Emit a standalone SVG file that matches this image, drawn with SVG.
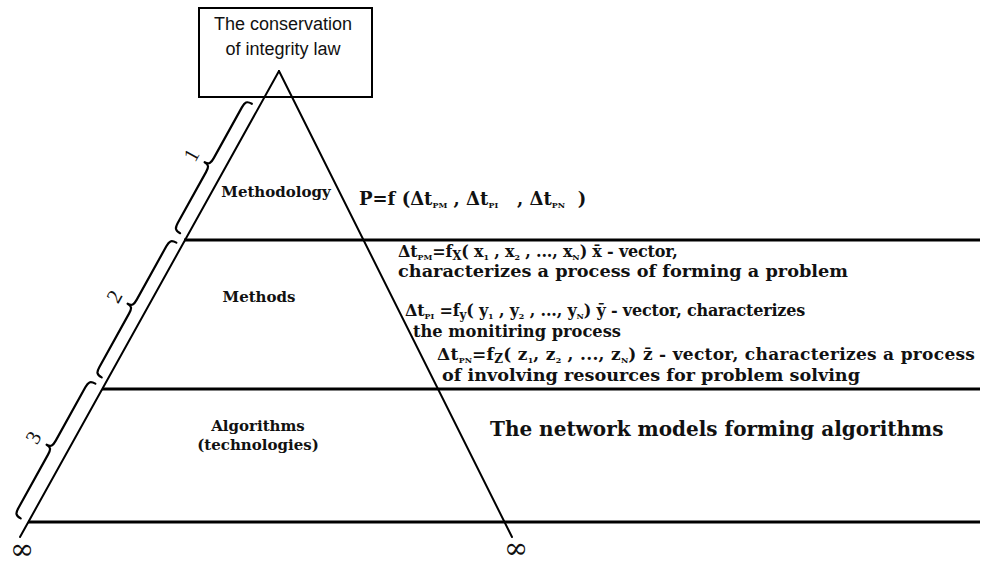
<svg xmlns="http://www.w3.org/2000/svg" width="982" height="561" viewBox="0 0 982 561">
<style>
  .ln { stroke: #000; stroke-width: 2; fill: none; stroke-linecap: round; }
  .hl { stroke: #000; stroke-width: 3; fill: none; }
  .br { stroke: #000; stroke-width: 2.2; fill: none; stroke-linecap: round; stroke-linejoin: round; }
  .box { fill: none; stroke: #000; stroke-width: 2; }
  .sans { font-family: "Liberation Sans", Arial, sans-serif; font-size: 18px; fill: #111; }
  .lay { font-family: "DejaVu Serif", "Liberation Serif", serif; font-weight: bold; font-size: 15px; fill: #111; text-anchor: middle; }
  .f { font-family: "DejaVu Serif", "Liberation Serif", serif; font-weight: bold; font-size: 17px; fill: #111; }
  .fn { font-size: 16px; letter-spacing: -0.2px; }
  .fw { letter-spacing: 0.3px; }
  .big { font-family: "DejaVu Serif", "Liberation Serif", serif; font-weight: bold; font-size: 20px; fill: #111; }
  .s { font-size: 8px; letter-spacing: 0; }
  .s2 { font-size: 12px; }
  .num { font-family: "Liberation Serif", "DejaVu Serif", serif; font-size: 21px; fill: #111; text-anchor: middle; }
  .inf { font-family: "DejaVu Serif", "Liberation Serif", serif; font-size: 29px; fill: #111; text-anchor: middle; }
</style>

<g id="connectors">
  <line class="ln" x1="279" y1="71" x2="20" y2="537"/>
  <line class="ln" x1="279" y1="71" x2="512" y2="537"/>
  <line class="hl" x1="184" y1="240" x2="980" y2="240"/>
  <line class="hl" x1="102" y1="389" x2="980" y2="389"/>
  <line class="hl" x1="28" y1="522" x2="980" y2="522"/>
</g>

<g id="law-box">
  <rect class="box" x="199" y="8" width="173" height="89"/>
  <text class="sans" x="283" y="30" text-anchor="middle">The conservation</text>
  <text class="sans" x="283" y="55" text-anchor="middle">of integrity law</text>
</g>

<g id="braces">
  <g transform="translate(216,168.5) rotate(-61)">
    <path class="br" d="M-74,0 C-74,-6 -72,-7 -66,-7 L-8,-7 C-2,-7 0,-8 0,-13 C0,-8 2,-7 8,-7 L66,-7 C72,-7 74,-6 74,0"/>
    <text class="num" x="0" y="-21">1</text>
  </g>
  <g transform="translate(139,310) rotate(-61)">
    <path class="br" d="M-77,0 C-77,-6 -75,-7 -69,-7 L-8,-7 C-2,-7 0,-8 0,-13 C0,-8 2,-7 8,-7 L69,-7 C75,-7 77,-6 77,0"/>
    <text class="num" x="0" y="-21">2</text>
  </g>
  <g transform="translate(58,451) rotate(-61)">
    <path class="br" d="M-77,0 C-77,-6 -75,-7 -69,-7 L-8,-7 C-2,-7 0,-8 0,-13 C0,-8 2,-7 8,-7 L69,-7 C75,-7 77,-6 77,0"/>
    <text class="num" x="0" y="-21">3</text>
  </g>
</g>

<g id="layer-methodology">
  <text class="lay" x="276" y="197">Methodology</text>
</g>
<g id="layer-methods">
  <text class="lay" x="259" y="302">Methods</text>
</g>
<g id="layer-algorithms">
  <text class="lay" x="258" y="431">Algorithms</text>
  <text class="lay" x="258" y="450">(technologies)</text>
</g>

<g id="formula-p">
  <text class="f" x="359" y="205" style="font-size:18px">P=f (Δt<tspan class="s" dy="3">PM</tspan><tspan dy="-3"> , Δt</tspan><tspan class="s" dy="3">PI</tspan><tspan dy="-3">&#160;&#160;&#160;, Δt</tspan><tspan class="s" dy="3">PN</tspan><tspan dy="-3">&#160;&#160;)</tspan></text>
</g>

<g id="formula-x">
  <text class="f fn" x="398" y="257">Δt<tspan class="s" dy="3">PM</tspan><tspan dy="-3">=f</tspan><tspan class="s2" dy="3">X</tspan><tspan dy="-3">( x</tspan><tspan class="s" dy="3">1</tspan><tspan dy="-3"> , x</tspan><tspan class="s" dy="3">2</tspan><tspan dy="-3"> , ..., x</tspan><tspan class="s" dy="3">N</tspan><tspan dy="-3">) x̄ - vector,</tspan></text>
  <text class="f" x="398" y="277" textLength="450" lengthAdjust="spacingAndGlyphs">characterizes a process of forming a problem</text>
</g>

<g id="formula-y">
  <text class="f fn" x="405" y="316">Δt<tspan class="s" dy="3">PI</tspan><tspan dy="-3"> =f</tspan><tspan class="s2" dy="3">y</tspan><tspan dy="-3">( y</tspan><tspan class="s" dy="3">1</tspan><tspan dy="-3"> , y</tspan><tspan class="s" dy="3">2</tspan><tspan dy="-3"> , ..., y</tspan><tspan class="s" dy="3">N</tspan><tspan dy="-3">) ȳ - vector, characterizes</tspan></text>
  <text class="f" x="413" y="337" textLength="208" lengthAdjust="spacingAndGlyphs">the monitiring process</text>
</g>

<g id="formula-z">
  <text class="f fw" x="437" y="360">Δt<tspan class="s" dy="3">PN</tspan><tspan dy="-3">=f</tspan><tspan class="s2" dy="3">Z</tspan><tspan dy="-3">( z</tspan><tspan class="s" dy="3">1</tspan><tspan dy="-3">, z</tspan><tspan class="s" dy="3">2</tspan><tspan dy="-3"> , ..., z</tspan><tspan class="s" dy="3">N</tspan><tspan dy="-3">) z̄ - vector, characterizes a process</tspan></text>
  <text class="f" x="442" y="381" textLength="418" lengthAdjust="spacingAndGlyphs">of involving resources for problem solving</text>
</g>

<g id="algorithms-note">
  <text class="big" x="490" y="436">The network models forming algorithms</text>
</g>

<g id="infinity">
  <text class="inf" x="22" y="559">∞</text>
  <text class="inf" x="516" y="558">∞</text>
</g>
</svg>
